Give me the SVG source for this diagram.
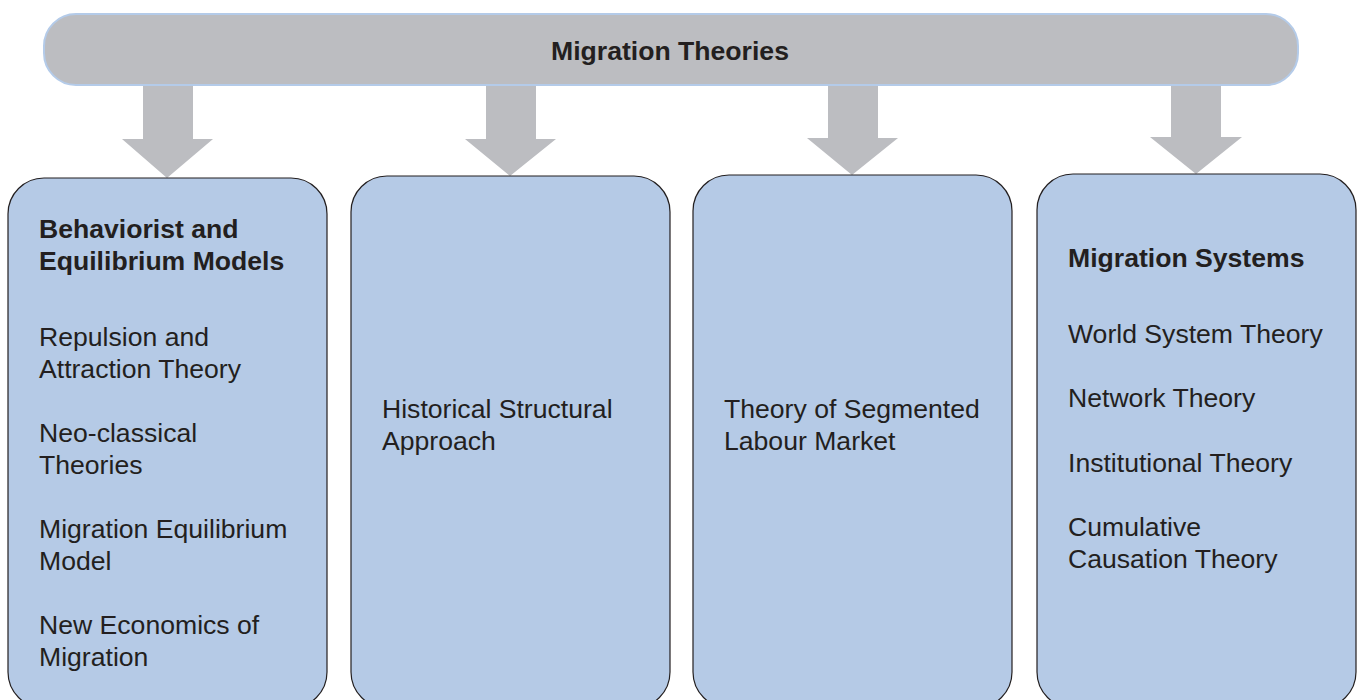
<svg xmlns="http://www.w3.org/2000/svg" width="1358" height="700" viewBox="0 0 1358 700">
<style>
.t{font-family:"Liberation Sans",Arial,sans-serif;font-size:26.6px;fill:#231f20}
.b{font-weight:bold}
.box{fill:#b5cae6;stroke:#231f20;stroke-width:1.2}
.arr{fill:#bcbdc1}
</style>
<rect width="1358" height="700" fill="#fff"/>
<g id="top">
<rect x="44" y="14" width="1254" height="71" rx="32" fill="#bcbdc1" stroke="#b4cbe9" stroke-width="2"/>
<text class="t b" x="670" y="60" text-anchor="middle">Migration Theories</text>
</g>
<g id="connectors">
<path class="arr" d="M143 86 H193 V139 H213 L167 178 L122 139 H143 Z"/>
<path class="arr" d="M486 86 H536 V139 H556 L510 176 L465 139 H486 Z"/>
<path class="arr" d="M828 86 H878 V138 H898 L852 175 L807 138 H828 Z"/>
<path class="arr" d="M1171 86 H1221 V137 H1242 L1196 174 L1150 137 H1171 Z"/>
</g>
<g id="box1">
<rect class="box" x="8" y="178" width="319" height="530" rx="36"/>
<text class="t b" x="39" y="238">Behaviorist and</text>
<text class="t b" x="39" y="270">Equilibrium Models</text>
<text class="t" x="39" y="346">Repulsion and</text>
<text class="t" x="39" y="378">Attraction Theory</text>
<text class="t" x="39" y="442">Neo-classical</text>
<text class="t" x="39" y="474">Theories</text>
<text class="t" x="39" y="538">Migration Equilibrium</text>
<text class="t" x="39" y="570">Model</text>
<text class="t" x="39" y="634">New Economics of</text>
<text class="t" x="39" y="666">Migration</text>
</g>
<g id="box2">
<rect class="box" x="351" y="176" width="319" height="532" rx="36"/>
<text class="t" x="382" y="418">Historical Structural</text>
<text class="t" x="382" y="450">Approach</text>
</g>
<g id="box3">
<rect class="box" x="693" y="175" width="319" height="533" rx="36"/>
<text class="t" x="724" y="418">Theory of Segmented</text>
<text class="t" x="724" y="450">Labour Market</text>
</g>
<g id="box4">
<rect class="box" x="1037" y="174" width="319" height="534" rx="36"/>
<text class="t b" x="1068" y="267">Migration Systems</text>
<text class="t" x="1068" y="343">World System Theory</text>
<text class="t" x="1068" y="407">Network Theory</text>
<text class="t" x="1068" y="472">Institutional Theory</text>
<text class="t" x="1068" y="536">Cumulative</text>
<text class="t" x="1068" y="568">Causation Theory</text>
</g>
</svg>
